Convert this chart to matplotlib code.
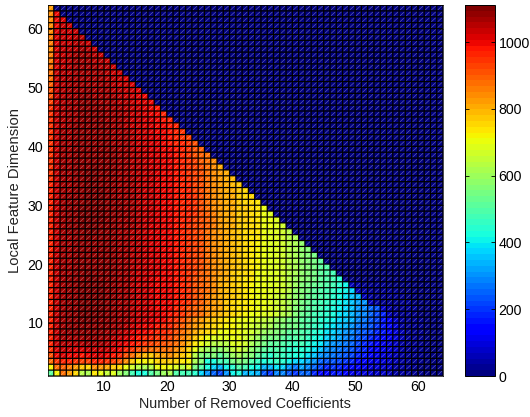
import numpy as np
import matplotlib
matplotlib.use("Agg")
import matplotlib.pyplot as plt
from matplotlib.collections import LineCollection

plt.rcParams['font.family'] = ['Liberation Sans', 'DejaVu Sans']

# cell values in tens, row number = local feature dimension, position = removed coefficients
r63 = [83]
r62 = [84,99]
r61 = [85,100,102]
r60 = [85,100,103,103]
r59 = [84,101,103,104,104]
r58 = [86,101,103,104,105,105]
r57 = [86,102,104,104,105,105,104]
r56 = [85,102,104,105,105,106,105,104]
r55 = [86,102,104,105,106,106,106,105,103]
r54 = [86,102,104,105,106,106,106,105,105,104]
r53 = [87,102,104,105,106,106,107,106,105,105,103]
r52 = [87,103,105,105,106,107,107,106,106,105,104,103]
r51 = [88,103,105,106,106,107,107,107,106,105,105,104,102]
r50 = [90,103,105,106,107,107,107,107,106,106,105,104,103,102]
r49 = [91,103,105,106,107,107,108,107,107,106,105,105,104,103,101]
r48 = [92,103,105,106,107,108,108,107,107,106,106,105,104,103,102,100]
r47 = [93,103,105,106,107,108,108,108,107,107,106,105,105,103,102,101,99]
r46 = [94,103,105,106,107,108,108,108,108,107,106,106,105,104,103,101,100,98]
r45 = [94,103,105,106,107,108,108,108,108,107,107,106,105,104,103,102,100,99,97]
r44 = [95,103,105,106,107,108,108,108,108,107,107,106,105,104,103,102,101,100,98,97]
r43 = [95,104,105,106,108,108,109,108,108,108,107,106,105,104,104,102,101,100,99,98,96]
r42 = [95,104,106,107,108,108,109,109,108,108,107,106,106,105,104,103,101,100,99,98,97,95]
r41 = [95,104,106,107,108,109,109,109,108,108,107,106,106,105,104,103,102,101,99,98,97,95,93]
r40 = [95,104,106,107,108,109,109,109,109,108,107,107,106,105,104,103,102,101,99,98,97,96,94,91]
r39 = [95,104,106,107,108,109,109,109,109,108,108,107,106,105,104,103,102,101,100,99,98,96,94,92,89]
r38 = [95,104,106,107,108,109,109,109,109,108,108,107,106,105,105,103,102,101,100,99,98,96,95,92,90,87]
r37 = [95,104,106,107,108,109,109,109,109,108,108,107,106,105,105,104,102,101,100,99,98,97,95,93,90,87,84]
r36 = [95,104,106,107,108,109,109,110,109,109,108,107,106,105,105,104,102,101,100,99,98,97,95,93,91,87,84,81]
r35 = [95,104,106,107,108,109,110,110,109,109,108,107,106,105,105,104,103,101,100,99,98,97,95,93,91,88,84,82,80]
r34 = [95,104,106,107,108,109,110,110,109,109,108,107,106,106,105,104,103,101,100,100,98,97,95,93,91,88,85,82,80,79]
r33 = [96,104,106,107,108,109,110,110,109,109,108,107,107,106,105,104,103,102,100,100,98,97,96,93,91,88,85,82,81,79,77]
r32 = [96,104,106,107,108,109,110,110,110,109,108,107,107,106,105,104,103,102,100,100,98,97,96,93,91,88,85,82,81,80,78,76]
r31 = [96,104,106,108,108,109,110,110,110,109,108,107,107,106,105,104,103,102,100,100,98,97,96,94,91,88,85,83,81,80,78,76,75]
r30 = [96,104,106,108,109,109,110,110,110,109,108,108,107,106,105,104,103,102,100,100,98,97,96,94,91,88,85,83,81,80,78,76,75,73]
r29 = [96,104,106,108,109,110,110,110,110,109,108,108,107,106,105,104,103,102,100,100,98,97,96,94,92,88,85,83,81,80,78,77,75,73,71]
r28 = [96,104,106,108,109,110,110,110,110,109,108,108,107,106,105,104,103,102,100,100,98,97,96,94,92,89,86,83,81,80,78,77,75,73,71,69]
r27 = [96,104,106,108,109,110,110,110,110,109,108,107,107,106,105,104,103,102,100,99,98,97,96,93,92,89,86,83,81,80,78,77,75,73,71,70,68]
r26 = [96,104,106,108,109,110,110,110,109,109,108,107,107,106,105,104,102,101,100,99,98,97,95,93,91,89,86,83,81,80,78,76,75,73,71,70,68,66]
r25 = [96,104,106,108,109,109,110,110,109,109,108,107,106,105,105,104,102,101,100,99,98,97,95,93,91,88,85,83,81,79,78,76,75,73,71,69,68,66,64]
r24 = [96,104,106,107,108,109,110,109,109,109,108,107,106,105,105,104,102,101,100,99,98,97,95,93,91,88,85,82,81,79,78,76,74,73,71,69,68,66,64,61]
r23 = [96,104,106,107,108,109,109,109,109,109,108,107,106,105,105,104,102,101,100,99,98,97,95,93,91,88,85,82,81,79,77,76,74,72,71,69,68,66,64,61,59]
r22 = [96,104,106,107,108,109,109,109,109,108,108,107,106,105,105,104,102,101,100,99,98,97,95,93,91,88,85,82,81,79,77,75,74,72,71,69,68,66,64,61,59,57]
r21 = [96,104,106,107,108,109,109,109,109,108,108,107,106,105,105,104,102,101,100,99,98,97,95,93,91,88,85,82,80,79,77,75,74,72,71,69,68,66,64,61,59,57,54]
r20 = [96,104,106,107,108,109,109,109,109,108,108,107,106,105,105,104,102,101,100,99,98,97,95,93,91,88,85,82,81,79,77,75,74,72,71,69,68,66,64,61,59,57,55,52]
r19 = [96,104,106,107,108,109,109,109,109,109,108,107,106,105,104,103,102,101,100,99,98,97,95,93,91,88,85,82,80,79,77,75,73,72,71,69,68,66,64,61,59,57,55,52,50]
r18 = [96,104,106,107,109,109,110,109,109,109,108,107,106,105,104,103,102,101,100,99,98,96,95,93,90,87,84,82,80,78,76,75,73,71,70,69,68,66,64,61,59,57,54,52,50,48]
r17 = [96,104,106,108,109,109,110,110,109,109,108,107,106,105,104,103,102,100,99,99,98,96,95,92,90,87,84,81,80,78,76,74,73,71,70,69,68,66,63,60,58,56,54,52,50,47,45]
r16 = [96,104,106,108,109,110,110,110,110,109,108,107,106,105,104,103,102,100,99,99,98,96,94,92,90,87,84,81,79,77,75,74,72,71,70,69,68,66,63,60,57,55,53,51,49,47,44,41,6,4,3,2,2,2,1,1,1,1,1,1,1,1,1]
r15 = [97,104,106,108,109,110,110,110,110,109,108,107,106,105,104,103,102,100,99,99,98,96,94,92,90,87,84,81,79,77,75,73,72,71,70,69,68,66,63,59,56,54,52,50,48,46,43,40,37,6,4,3,3,2,2,2,1,1,1,1,1,1,1]
r14 = [97,104,106,108,109,110,110,110,110,109,108,107,106,105,104,103,102,100,99,99,98,96,94,91,90,86,83,80,79,77,75,73,72,71,70,69,67,65,62,58,56,53,51,49,47,45,42,39,36,33,6,4,3,3,2,2,2,1,1,1,1,1,1]
r13 = [97,104,107,108,109,110,110,110,110,109,108,107,106,105,104,103,102,100,99,99,98,96,94,91,89,86,83,80,78,76,74,73,72,71,70,69,67,65,62,58,55,53,50,48,46,44,41,39,36,32,30,6,4,3,2,2,2,2,1,1,1,1,1]
r12 = [97,104,107,108,109,110,110,110,110,109,108,107,106,105,104,103,102,100,99,99,97,95,92,90,88,85,83,80,78,76,74,73,72,71,70,69,67,65,62,57,54,52,49,47,45,43,40,38,35,31,29,26,23,8,4,3,2,2,2,1,1,1,1]
r11 = [97,104,107,108,109,110,110,110,110,109,108,107,106,105,104,103,102,101,99,98,96,94,91,89,87,84,81,79,77,75,73,72,71,70,69,68,66,64,61,56,53,51,48,46,44,42,39,37,34,30,28,25,22,18,6,4,3,2,2,1,1,1,1]
r10 = [97,104,107,108,109,110,110,110,109,109,108,107,106,105,104,103,101,100,99,97,94,91,88,85,82,79,77,75,73,72,71,70,68,67,65,63,60,58,55,55,52,50,47,45,43,41,38,36,33,29,27,24,21,17,13,7,4,3,2,2,1,1,1]
r09 = [97,104,107,108,108,109,109,109,109,108,107,106,105,103,101,100,99,98,97,96,93,90,86,83,80,77,75,73,72,72,71,69,67,65,63,61,59,57,54,54,51,49,46,44,41,39,36,34,31,27,25,23,20,17,14,10,5,3,2,2,1,1,1]
r08 = [97,104,107,108,108,109,109,109,108,107,106,105,104,102,100,99,98,97,96,94,92,88,84,81,78,75,73,71,71,72,70,68,66,63,60,58,56,54,52,52,50,47,45,42,39,37,34,31,29,26,24,21,19,16,13,10,6,3,2,2,1,1,1]
r07 = [96,103,106,107,107,107,108,108,107,106,105,104,102,100,98,97,96,95,94,93,90,86,82,78,74,71,69,68,68,70,70,67,64,60,57,55,54,52,50,50,49,46,43,40,37,35,32,29,27,24,22,19,17,15,12,9,6,3,2,2,1,1,1]
r06 = [96,103,105,105,105,105,106,106,106,105,104,102,100,98,96,94,93,92,91,90,87,84,79,74,70,66,64,63,64,68,69,66,62,58,54,52,52,50,48,46,47,45,41,39,34,31,29,27,25,22,19,17,14,12,10,7,5,3,2,2,1,1,1]
r05 = [94,101,103,103,102,102,103,104,104,103,101,99,97,94,92,90,88,88,88,88,84,80,75,70,64,60,59,59,60,65,67,63,59,55,51,49,49,47,45,44,45,42,39,35,31,29,27,25,23,20,18,15,13,11,9,7,5,3,2,2,1,1,1]
r04 = [92,99,101,100,99,98,99,101,102,100,98,96,92,88,83,79,78,80,83,85,80,78,73,64,57,54,56,52,54,60,62,59,56,51,47,44,47,46,44,42,42,39,35,31,28,27,25,23,21,18,16,14,12,10,8,6,4,3,2,2,1,1,1]
r03 = [88,95,97,96,94,93,93,96,97,95,93,90,85,78,72,72,72,76,78,78,76,74,72,62,56,43,43,48,47,54,57,54,50,46,43,44,46,44,40,37,37,34,30,26,24,24,22,20,18,15,14,12,11,9,7,6,4,3,2,2,1,1,1]
r02 = [72,88,90,86,82,78,76,84,82,80,78,75,71,67,64,62,64,70,72,70,68,64,68,55,49,43,37,33,40,44,50,47,43,40,34,33,39,37,31,27,32,28,25,21,19,20,19,17,15,13,12,10,9,8,7,5,4,3,2,1,1,1,1]
r01 = [52,72,88,82,75,63,62,74,71,65,69,60,56,47,42,42,50,55,60,61,50,47,47,45,38,31,25,22,30,40,42,33,35,34,24,20,29,29,24,20,26,25,18,13,15,17,16,13,11,10,10,9,8,7,6,5,4,3,2,2,1,1,1]

rows = [r01,r02,r03,r04,r05,r06,r07,r08,r09,r10,r11,r12,r13,r14,r15,r16,r17,r18,r19,r20,
        r21,r22,r23,r24,r25,r26,r27,r28,r29,r30,r31,r32,r33,r34,r35,r36,r37,r38,r39,r40,
        r41,r42,r43,r44,r45,r46,r47,r48,r49,r50,r51,r52,r53,r54,r55,r56,r57,r58,r59,r60,
        r61,r62,r63]
ticks_main = [10, 20, 30, 40, 50, 60]
ticks_bar = [0, 200, 400, 600, 800, 1000]
value_top = 1111
W, H = 530, 417

data = np.zeros((63, 63))
for i, r in enumerate(rows):
    data[i, :len(r)] = np.array(r[:63]) * 10

fig = plt.figure(figsize=(W / 100, H / 100), dpi=100)
ax = fig.add_axes([47.5 / W, 1 - 376 / H, (443 - 47.5) / W, (376 - 5) / H])
edges = np.arange(1, 65)
mesh = ax.pcolormesh(edges, edges, data, cmap=plt.get_cmap('jet', 64), vmin=0, vmax=value_top,
                     edgecolors='none', antialiased=False)
X, Y = np.meshgrid(edges[:-1], edges[:-1])
segs = np.stack([np.column_stack([X.ravel() + .12, Y.ravel() + .12]),
                 np.column_stack([X.ravel() + .88, Y.ravel() + .88])], axis=1)
diag = LineCollection(segs, colors='white', linewidths=0.45, alpha=0.4)
diag.set_snap(False)
ax.add_collection(diag)
v = ax.vlines(edges, 1, 64, colors='black', linewidths=0.88)
h = ax.hlines(edges, 1, 64, colors='black', linewidths=0.88)
v.set_snap(False)
h.set_snap(False)
ax.set_xlim(1, 64)
ax.set_ylim(1, 64)
ax.set_xticks(ticks_main)
ax.set_yticks(ticks_main)
ax.tick_params(direction='in', length=3, width=0.5, top=True, right=True, labelsize=10.2, pad=3, color='k')
ax.set_xlabel('Number of Removed Coefficients', fontsize=10.4, labelpad=2, color='#222222')
ax.set_ylabel('Local Feature Dimension', fontsize=10.6, labelpad=4, color='#222222')
for s in ax.spines.values():
    s.set_linewidth(0.5)

cax = fig.add_axes([465 / W, 1 - 376 / H, (494.5 - 465) / W, (376 - 5) / H])
cb = fig.colorbar(mesh, cax=cax)
cb.set_ticks(ticks_bar)
cax.tick_params(direction='in', length=3, width=0.6, left=True, right=True, labelsize=10.2, pad=3, color='k')
cb.outline.set_linewidth(0.7)

fig.savefig('out.png', dpi=100)
